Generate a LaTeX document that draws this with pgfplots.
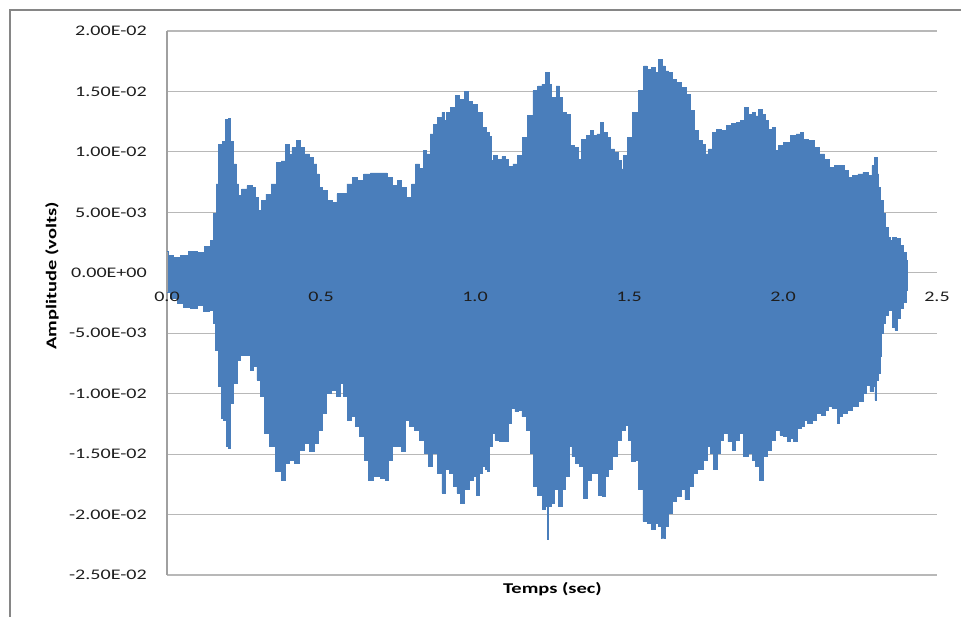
\documentclass[border=0pt]{standalone}
\usepackage{fontspec}
\setmainfont{Carlito}[FakeStretch=1.37]
\usepackage{pgfplots}
\pgfplotsset{compat=1.18}
\usepgfplotslibrary{fillbetween}

\definecolor{wave}{RGB}{74,126,187}
\definecolor{gridgray}{RGB}{184,184,184}
\definecolor{axisgray}{RGB}{160,160,160}
\definecolor{framegray}{RGB}{134,134,134}
\definecolor{ticktext}{RGB}{30,30,30}

\begin{document}
\begin{tikzpicture}
% chart frame (top and left edges)
\draw[framegray, line width=1.6bp] (-157bp,-42bp) -- (-157bp,565bp) -- (794bp,565bp);

\begin{axis}[
  at={(0,0)}, anchor=south west,
  scale only axis, width=770bp, height=544bp,
  xmin=0, xmax=2.5, ymin=-0.025, ymax=0.02,
  axis line style={draw=none},
  tick style={draw=none},
  xtick=\empty,
  scaled y ticks=false,
  ytick={-0.025,-0.02,-0.015,-0.01,-0.005,0,0.005,0.01,0.015,0.02},
  yticklabels={-2.50E-02,-2.00E-02,-1.50E-02,-1.00E-02,-5.00E-03,0.00E+00,5.00E-03,1.00E-02,1.50E-02,2.00E-02},
  yticklabel style={anchor=east, inner sep=0pt, xshift=-20bp, font=\fontsize{14.7}{16}\selectfont, text=ticktext},
  ymajorgrids,
  major grid style={gridgray, line width=1.1bp},
  clip=false,
]
% vertical axis line
\draw[axisgray, line width=1.6bp] (axis cs:0,-0.025) -- (axis cs:0,0.02);

% upper envelope of the recorded signal
\addplot[name path=up, const plot mark mid, draw=wave, line width=0.7bp] table {
0.000 1.79e-3
0.010 1.45e-3
0.032 1.30e-3
0.054 1.45e-3
0.087 1.80e-3
0.108 1.70e-3
0.135 2.18e-3
0.146 2.67e-3
0.157 4.90e-3
0.162 7.35e-3
0.173 10.65e-3
0.186 10.90e-3
0.195 12.70e-3
0.202 12.80e-3
0.211 10.90e-3
0.222 9.00e-3
0.229 7.35e-3
0.236 6.39e-3
0.249 6.94e-3
0.270 7.20e-3
0.283 7.05e-3
0.292 6.25e-3
0.301 5.15e-3
0.312 5.97e-3
0.330 6.50e-3
0.346 7.35e-3
0.362 9.13e-3
0.379 9.25e-3
0.392 10.65e-3
0.400 9.80e-3
0.411 10.35e-3
0.427 10.92e-3
0.438 10.35e-3
0.455 9.83e-3
0.471 9.55e-3
0.481 9.00e-3
0.492 8.18e-3
0.498 7.07e-3
0.514 6.80e-3
0.525 5.97e-3
0.546 5.85e-3
0.557 6.53e-3
0.573 6.53e-3
0.595 7.35e-3
0.611 7.90e-3
0.628 7.62e-3
0.649 8.18e-3
0.671 8.26e-3
0.703 8.26e-3
0.725 7.90e-3
0.741 7.21e-3
0.755 7.62e-3
0.768 7.07e-3
0.788 6.25e-3
0.801 7.35e-3
0.812 9.00e-3
0.828 8.60e-3
0.835 10.10e-3
0.849 9.83e-3
0.860 11.48e-3
0.871 12.30e-3
0.887 12.85e-3
0.898 13.26e-3
0.905 12.60e-3
0.912 13.26e-3
0.931 13.67e-3
0.942 14.64e-3
0.958 14.36e-3
0.974 15.00e-3
0.985 14.20e-3
1.001 13.95e-3
1.017 13.26e-3
1.028 12.00e-3
1.044 11.60e-3
1.052 11.30e-3
1.055 9.27e-3
1.066 9.69e-3
1.082 9.41e-3
1.093 9.60e-3
1.104 9.35e-3
1.115 8.78e-3
1.131 9.00e-3
1.147 9.69e-3
1.163 11.20e-3
1.180 12.99e-3
1.196 15.05e-3
1.212 15.46e-3
1.223 15.60e-3
1.236 16.56e-3
1.244 15.60e-3
1.255 14.50e-3
1.271 15.46e-3
1.279 14.50e-3
1.288 13.26e-3
1.304 13.10e-3
1.315 10.51e-3
1.331 10.37e-3
1.340 9.41e-3
1.353 11.06e-3
1.369 11.34e-3
1.380 11.80e-3
1.391 11.34e-3
1.401 11.48e-3
1.412 12.43e-3
1.423 11.62e-3
1.434 11.20e-3
1.445 10.24e-3
1.461 9.96e-3
1.472 9.27e-3
1.478 8.59e-3
1.488 9.69e-3
1.502 11.20e-3
1.520 13.26e-3
1.542 15.05e-3
1.553 17.11e-3
1.564 16.84e-3
1.580 16.98e-3
1.591 16.56e-3
1.602 17.66e-3
1.612 17.11e-3
1.623 16.70e-3
1.634 16.56e-3
1.645 16.01e-3
1.661 15.74e-3
1.677 15.32e-3
1.694 14.78e-3
1.705 13.40e-3
1.721 11.75e-3
1.732 10.92e-3
1.742 10.65e-3
1.751 9.83e-3
1.764 10.24e-3
1.775 11.60e-3
1.791 11.89e-3
1.807 11.75e-3
1.823 12.16e-3
1.840 12.35e-3
1.856 12.43e-3
1.867 12.57e-3
1.881 13.67e-3
1.894 13.12e-3
1.905 13.26e-3
1.916 12.98e-3
1.926 13.54e-3
1.937 13.12e-3
1.948 12.57e-3
1.959 11.89e-3
1.972 12.03e-3
1.981 10.10e-3
1.991 10.51e-3
2.013 10.80e-3
2.034 11.34e-3
2.051 11.48e-3
2.062 11.60e-3
2.072 11.06e-3
2.094 10.92e-3
2.110 10.37e-3
2.127 9.83e-3
2.143 9.41e-3
2.159 8.72e-3
2.175 8.86e-3
2.192 8.86e-3
2.208 8.45e-3
2.218 7.90e-3
2.235 8.04e-3
2.251 8.18e-3
2.268 8.31e-3
2.283 8.04e-3
2.294 8.86e-3
2.302 9.55e-3
2.308 8.18e-3
2.314 7.07e-3
2.321 5.97e-3
2.329 4.88e-3
2.338 3.77e-3
2.346 2.95e-3
2.354 2.68e-3
2.359 2.95e-3
2.375 2.81e-3
2.386 2.26e-3
2.397 1.71e-3
2.403 1.02e-3
2.405 0.00e-3
};

% lower envelope of the recorded signal
\addplot[name path=lo, const plot mark mid, draw=wave, line width=0.7bp] table {
0.000 -1.59e-3
0.022 -2.14e-3
0.043 -2.55e-3
0.065 -2.82e-3
0.087 -2.96e-3
0.108 -2.68e-3
0.130 -3.16e-3
0.146 -3.10e-3
0.154 -4.20e-3
0.162 -6.40e-3
0.173 -9.43e-3
0.179 -12.04e-3
0.189 -12.18e-3
0.197 -14.38e-3
0.203 -14.50e-3
0.211 -10.80e-3
0.222 -9.15e-3
0.233 -7.23e-3
0.243 -6.81e-3
0.265 -6.81e-3
0.276 -8.05e-3
0.287 -7.78e-3
0.297 -8.88e-3
0.308 -10.25e-3
0.325 -13.28e-3
0.341 -14.38e-3
0.362 -16.44e-3
0.379 -17.13e-3
0.390 -15.75e-3
0.406 -15.48e-3
0.422 -15.75e-3
0.438 -14.65e-3
0.455 -14.10e-3
0.471 -14.79e-3
0.487 -14.10e-3
0.498 -13.00e-3
0.509 -11.63e-3
0.525 -9.98e-3
0.541 -9.71e-3
0.557 -10.25e-3
0.568 -9.15e-3
0.579 -10.25e-3
0.590 -12.18e-3
0.606 -11.90e-3
0.617 -12.73e-3
0.633 -13.56e-3
0.649 -15.48e-3
0.660 -17.13e-3
0.682 -16.86e-3
0.703 -17.00e-3
0.714 -17.13e-3
0.725 -15.48e-3
0.736 -14.38e-3
0.752 -14.38e-3
0.768 -14.79e-3
0.779 -12.18e-3
0.795 -12.73e-3
0.812 -13.00e-3
0.828 -13.83e-3
0.844 -14.93e-3
0.855 -16.03e-3
0.871 -14.93e-3
0.887 -16.58e-3
0.898 -18.23e-3
0.909 -16.30e-3
0.925 -16.58e-3
0.936 -17.68e-3
0.947 -18.23e-3
0.958 -19.05e-3
0.974 -17.95e-3
0.990 -17.13e-3
1.001 -16.86e-3
1.009 -18.37e-3
1.017 -16.58e-3
1.028 -16.03e-3
1.037 -16.30e-3
1.044 -16.44e-3
1.052 -14.38e-3
1.058 -13.28e-3
1.071 -13.83e-3
1.088 -13.97e-3
1.104 -13.97e-3
1.112 -12.45e-3
1.123 -11.21e-3
1.136 -11.49e-3
1.147 -11.35e-3
1.158 -11.90e-3
1.174 -13.00e-3
1.185 -14.93e-3
1.196 -17.68e-3
1.212 -18.37e-3
1.225 -19.60e-3
1.234 -19.33e-3
1.237 -22.08e-3
1.240 -19.33e-3
1.253 -19.05e-3
1.264 -17.95e-3
1.277 -19.33e-3
1.288 -17.95e-3
1.301 -16.86e-3
1.309 -14.38e-3
1.320 -15.21e-3
1.331 -15.75e-3
1.347 -16.03e-3
1.358 -18.64e-3
1.369 -17.13e-3
1.385 -16.58e-3
1.396 -16.58e-3
1.407 -18.37e-3
1.418 -18.50e-3
1.429 -16.86e-3
1.439 -16.30e-3
1.456 -15.21e-3
1.470 -13.83e-3
1.482 -13.00e-3
1.494 -12.59e-3
1.502 -13.83e-3
1.515 -15.62e-3
1.526 -15.48e-3
1.537 -17.95e-3
1.553 -20.57e-3
1.569 -20.70e-3
1.578 -21.25e-3
1.591 -20.70e-3
1.602 -20.98e-3
1.610 -21.94e-3
1.623 -20.98e-3
1.634 -19.88e-3
1.645 -18.92e-3
1.661 -18.50e-3
1.677 -17.95e-3
1.686 -18.78e-3
1.705 -17.68e-3
1.715 -16.58e-3
1.732 -16.30e-3
1.748 -15.48e-3
1.759 -14.38e-3
1.769 -14.93e-3
1.780 -16.30e-3
1.791 -14.93e-3
1.799 -13.83e-3
1.813 -13.28e-3
1.829 -13.97e-3
1.842 -14.65e-3
1.851 -13.83e-3
1.867 -13.28e-3
1.878 -15.21e-3
1.894 -14.93e-3
1.905 -15.48e-3
1.916 -16.03e-3
1.932 -17.13e-3
1.943 -15.21e-3
1.953 -14.65e-3
1.969 -13.83e-3
1.983 -13.00e-3
1.997 -13.42e-3
2.008 -13.56e-3
2.018 -13.97e-3
2.029 -13.70e-3
2.040 -13.97e-3
2.051 -12.87e-3
2.067 -12.73e-3
2.072 -12.18e-3
2.089 -12.45e-3
2.099 -12.18e-3
2.116 -11.63e-3
2.132 -11.76e-3
2.143 -11.35e-3
2.154 -11.08e-3
2.164 -11.21e-3
2.173 -11.21e-3
2.179 -12.45e-3
2.186 -11.90e-3
2.202 -11.63e-3
2.218 -11.35e-3
2.235 -11.08e-3
2.251 -10.67e-3
2.268 -9.98e-3
2.275 -9.29e-3
2.289 -9.84e-3
2.295 -9.43e-3
2.302 -10.53e-3
2.307 -8.88e-3
2.314 -8.32e-3
2.316 -6.95e-3
2.321 -5.02e-3
2.329 -4.20e-3
2.338 -3.51e-3
2.349 -3.10e-3
2.359 -4.48e-3
2.368 -4.75e-3
2.375 -3.79e-3
2.386 -2.96e-3
2.397 -2.42e-3
2.403 -1.45e-3
2.405 0.00e-3
};

% the dense oscillation fills the band between the envelopes
\addplot[fill=wave, draw=none] fill between[of=up and lo];

% time labels sit just under the zero line, over the waveform
\node[font=\fontsize{14.7}{16}\selectfont, text=ticktext] at (axis cs:0.0,0) [yshift=-24bp] {0.0};
\node[font=\fontsize{14.7}{16}\selectfont, text=ticktext] at (axis cs:0.5,0) [yshift=-24bp] {0.5};
\node[font=\fontsize{14.7}{16}\selectfont, text=ticktext] at (axis cs:1.0,0) [yshift=-24bp] {1.0};
\node[font=\fontsize{14.7}{16}\selectfont, text=ticktext] at (axis cs:1.5,0) [yshift=-24bp] {1.5};
\node[font=\fontsize{14.7}{16}\selectfont, text=ticktext] at (axis cs:2.0,0) [yshift=-24bp] {2.0};
\node[font=\fontsize{14.7}{16}\selectfont, text=ticktext] at (axis cs:2.5,0) [yshift=-24bp] {2.5};
\end{axis}

% axis titles
\node[font=\bfseries\fontsize{15}{17}\selectfont] at (385.5bp,-14bp) {Temps (sec)};
\node[font=\bfseries\fontsize{15}{17}\selectfont, rotate=90] at (-115bp,299bp) {Amplitude (volts)};

\pgfresetboundingbox
\useasboundingbox (-167bp,-42bp) rectangle (794bp,575bp);
\end{tikzpicture}
\end{document}
